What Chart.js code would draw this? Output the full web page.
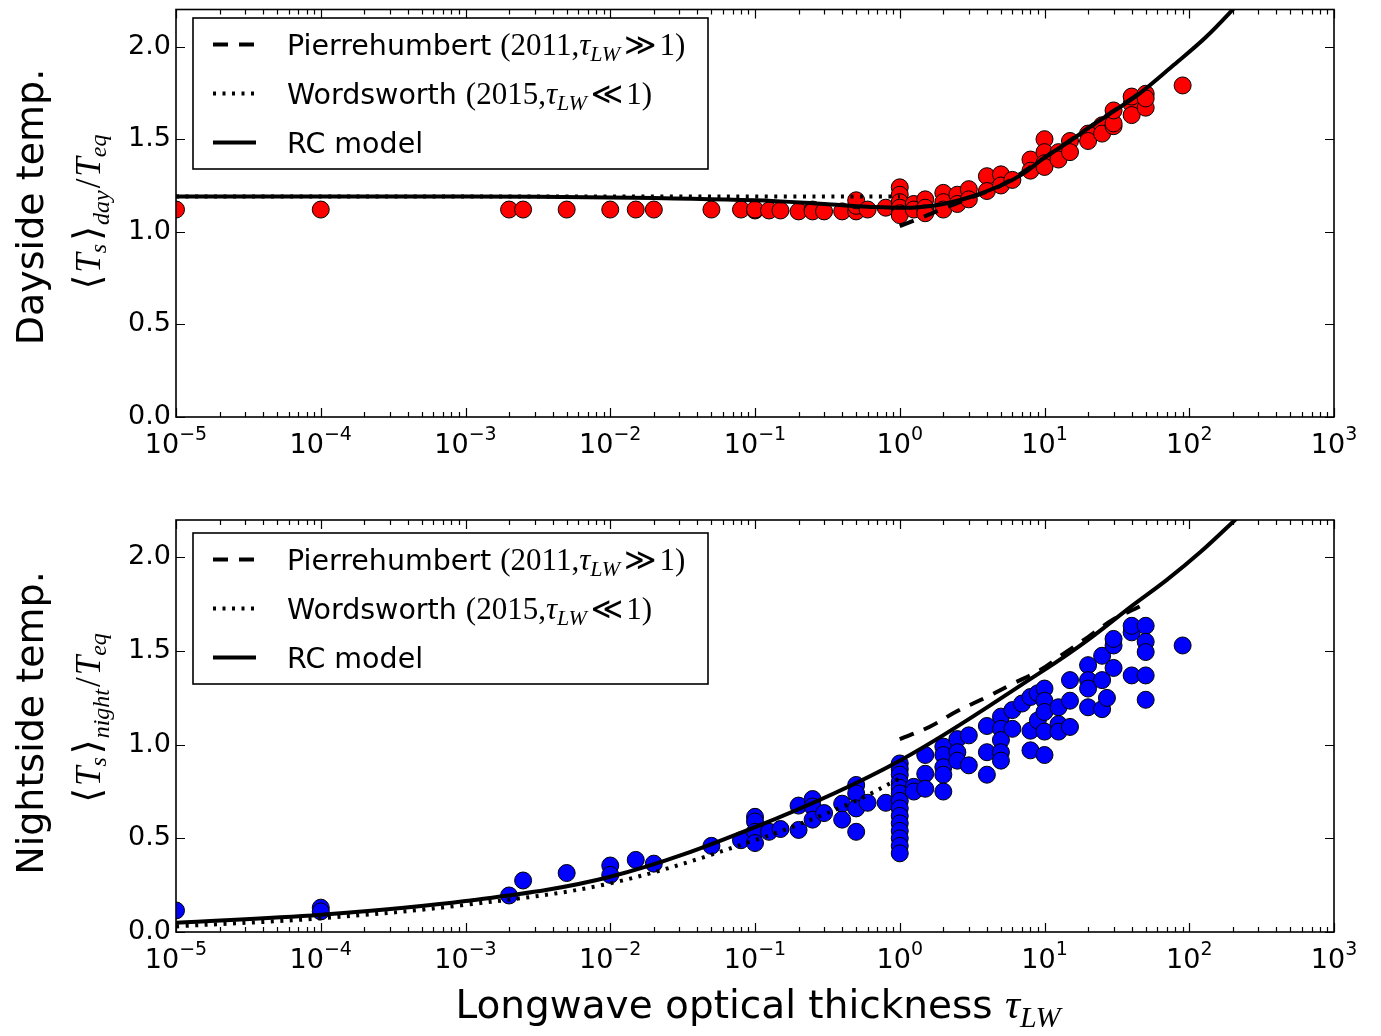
<!DOCTYPE html>
<html>
<head>
<meta charset="utf-8">
<script src="https://cdn.jsdelivr.net/npm/chart.js@4.4.1/dist/chart.umd.min.js"></script>
<style>
  body { margin: 0; background: #fff; width: 1381px; height: 1036px; position: relative; overflow: hidden; }
  .panel { position: absolute; left: 0; width: 1381px; }
</style>
</head>
<body>
<div class="panel" style="top:0;height:500px"><canvas id="dayChart"></canvas></div>
<div class="panel" style="top:500px;height:536px"><canvas id="nightChart"></canvas></div>
<script>
// Axis ticks
const xDecades = [-5, -4, -3, -2, -1, 0, 1, 2, 3];
const yTicks = [0, 0.5, 1.0, 1.5, 2.0];

// Simulated dayside temperatures (several runs per optical thickness)
const dayTau = [1e-5, 1e-4, 2e-3, 2.5e-3, 5e-3, 1e-2, 1.5e-2, 2e-2, 5e-2, 0.08, 0.1, 0.125, 0.15, 0.2, 0.25, 0.3, 0.4, 0.5, 0.6, 0.8,
                1, 1.25, 1.5, 2, 2.5, 3, 4, 5, 6, 8, 10, 12.5, 15, 20, 25, 30, 40, 50, 90];
const dayTemp = [[1.12], [1.12], [1.12], [1.12], [1.12], [1.12], [1.12], [1.12], [1.12], [1.12], [1.115, 1.12], [1.115], [1.115], [1.11],
                 [1.12, 1.11], [1.11], [1.11], [1.11, 1.14, 1.17], [1.12], [1.13],
                 [1.24, 1.20, 1.16, 1.13, 1.10, 1.09], [1.15, 1.12], [1.175, 1.13, 1.10], [1.21, 1.16, 1.12], [1.20, 1.15],
                 [1.23, 1.175], [1.30, 1.22], [1.31, 1.25], [1.28], [1.39, 1.33], [1.50, 1.43, 1.37, 1.35], [1.43, 1.39],
                 [1.49, 1.43], [1.53, 1.49], [1.575, 1.53], [1.57, 1.585, 1.655], [1.69, 1.63, 1.73], [1.745, 1.67, 1.72], [1.79]];

// Simulated nightside temperatures
const nightTau = [1e-5, 1e-4, 2e-3, 2.5e-3, 5e-3, 1e-2, 1.5e-2, 2e-2, 5e-2, 0.08, 0.1, 0.125, 0.15, 0.2, 0.25, 0.3, 0.4, 0.5, 0.6, 0.8,
                  1, 1.25, 1.5, 2, 2.5, 3, 4, 5, 6, 7, 8, 9, 10, 12.5, 15, 20, 25, 27, 30, 40, 50, 90];
const nightTemp = [[0.115], [0.13, 0.11], [0.195], [0.275], [0.315], [0.355, 0.305], [0.385], [0.365], [0.46], [0.49],
                   [0.615, 0.59, 0.535, 0.475], [0.535], [0.55], [0.675, 0.545], [0.71, 0.67, 0.60], [0.635], [0.685, 0.60],
                   [0.785, 0.74, 0.66, 0.535], [0.69], [0.69],
                   [0.90, 0.87, 0.84, 0.80, 0.77, 0.74, 0.70, 0.66, 0.62, 0.58, 0.54, 0.50, 0.46, 0.42],
                   [0.775, 0.75], [0.945, 0.845, 0.765], [0.99, 0.945, 0.88, 0.84, 0.75], [1.03, 0.96, 0.915], [1.05, 0.89],
                   [1.10, 0.96, 0.84], [1.15, 1.085, 1.025, 0.96, 0.915], [1.185, 1.085], [1.22], [1.255, 1.075, 0.97],
                   [1.275, 1.13], [1.30, 1.235, 1.175, 1.07, 0.945], [1.20, 1.11, 1.07], [1.345, 1.235, 1.095],
                   [1.425, 1.345, 1.30, 1.20], [1.475, 1.345, 1.19], [1.25], [1.53, 1.41, 1.565], [1.60, 1.37, 1.635],
                   [1.635, 1.55, 1.495, 1.37, 1.24], [1.53]];

// Model curves
const rcDayTau = [1e-5, 1e-3, 1e-2, 0.1, 0.3, 0.6, 1.2, 2, 3, 5, 7, 10, 15, 20, 30, 46, 78, 130, 230];
const rcDayVal = [1.19, 1.19, 1.185, 1.17, 1.15, 1.135, 1.13, 1.15, 1.185, 1.25, 1.31, 1.40, 1.49, 1.56, 1.65, 1.75, 1.90, 2.05, 2.25];
const pierreDayTau = [1, 1.5, 2, 3, 5, 10, 20, 50];
const pierreDayVal = [1.03, 1.085, 1.125, 1.18, 1.25, 1.40, 1.56, 1.77];
const wordsDayTau = [1e-5, 1];
const wordsDayVal = [1.19, 1.19];

const rcNightTau = [1e-5, 1e-4, 1e-3, 1e-2, 0.1, 1, 10, 20, 40, 70, 120, 207, 300];
const rcNightVal = [0.05, 0.092, 0.165, 0.295, 0.56, 0.915, 1.40, 1.56, 1.74, 1.88, 2.03, 2.2, 2.32];
const pierreNightTau = [1, 1.6, 2.5, 4, 6, 9.4, 13.5, 20, 30, 46, 50];
const pierreNightVal = [1.03, 1.095, 1.18, 1.255, 1.325, 1.40, 1.485, 1.575, 1.67, 1.74, 1.76];
const wordsNightTau = [1e-5, 1e-4, 1e-3, 1e-2, 0.1, 0.45, 1];
const wordsNightVal = [0.03, 0.073, 0.145, 0.26, 0.49, 0.685, 0.82];

const SANS = '"DejaVu Sans", sans-serif';
const SERIF = '"Liberation Serif", "DejaVu Serif", "DejaVu Sans", serif';
const fnt = (size, family, style) => (style ? style + ' ' : '') + size + 'px ' + family;

function scatterPoints(taus, temps) {
  const pts = [];
  taus.forEach((t, i) => temps[i].forEach(v => pts.push({ x: t, y: v })));
  return pts;
}
function curve(xs, ys) {
  return xs.map((x, i) => ({ x: x, y: ys[i] }));
}

// draws a row of text pieces with different fonts / offsets
function drawRich(ctx, parts, x, y, align) {
  let total = 0;
  parts.forEach(p => { ctx.font = p.f; p.w = ctx.measureText(p.t).width; total += p.w + (p.gap || 0); });
  let cx = align === 'center' ? x - total / 2 : (align === 'right' ? x - total : x);
  ctx.textAlign = 'left';
  ctx.textBaseline = 'alphabetic';
  parts.forEach(p => { ctx.font = p.f; ctx.fillText(p.t, cx, y + (p.dy || 0)); cx += p.w + (p.gap || 0); });
}

function legendText(name, year, rel) {
  const parts = [{ t: name, f: fnt(28.5, SANS), gap: 9 }];
  if (year) {
    parts.push({ t: '(' + year + ',', f: fnt(31, SERIF) });
    parts.push({ t: '\u03C4', f: fnt(31, SERIF, 'italic') });
    parts.push({ t: 'LW', f: fnt(22, SERIF, 'italic'), dy: 6, gap: 4 });
    parts.push({ t: rel, f: fnt(31, SERIF), gap: 3 });
    parts.push({ t: '1)', f: fnt(31, SERIF) });
  }
  return parts;
}

function decorPlugin(opt) {
  return {
    id: 'decor',
    afterDraw(chart) {
      const ctx = chart.ctx, a = chart.chartArea, xs = chart.scales.x, ys = chart.scales.y;
      ctx.save();
      ctx.strokeStyle = '#000';
      ctx.fillStyle = '#000';

      // inward ticks, matplotlib style
      ctx.lineWidth = 1.2;
      ctx.beginPath();
      xDecades.forEach(k => {
        for (let m = 1; m <= 9; m++) {
          if (k === 3 && m > 1) break;
          const px = Math.round(xs.getPixelForValue(m * Math.pow(10, k))) + 0.5;
          const len = m === 1 ? 9 : 5;
          ctx.moveTo(px, a.bottom); ctx.lineTo(px, a.bottom - len);
          ctx.moveTo(px, a.top); ctx.lineTo(px, a.top + len);
        }
      });
      yTicks.forEach(v => {
        const py = Math.round(ys.getPixelForValue(v)) + 0.5;
        ctx.moveTo(a.left, py); ctx.lineTo(a.left + 9, py);
        ctx.moveTo(a.right, py); ctx.lineTo(a.right - 9, py);
      });
      ctx.stroke();

      ctx.lineWidth = 1.6;
      ctx.strokeRect(a.left, a.top, a.right - a.left, a.bottom - a.top);

      // tick labels
      ctx.font = fnt(27, SANS);
      ctx.textAlign = 'right';
      ctx.textBaseline = 'middle';
      yTicks.forEach(v => ctx.fillText(v.toFixed(1), a.left - 5, ys.getPixelForValue(v)));
      xDecades.forEach(k => {
        const exp = k < 0 ? '\u2212' + (-k) : String(k);
        drawRich(ctx, [{ t: '10', f: fnt(27, SANS) }, { t: exp, f: fnt(19, SANS), dy: -13 }],
                 xs.getPixelForValue(Math.pow(10, k)), a.bottom + 36, 'center');
      });

      // y axis title (two lines, rotated)
      ctx.save();
      ctx.translate(43, opt.titleY);
      ctx.rotate(-Math.PI / 2);
      ctx.font = fnt(38, SANS);
      ctx.textAlign = 'center';
      ctx.textBaseline = 'alphabetic';
      ctx.fillText(opt.title, 0, 0);
      ctx.restore();

      ctx.save();
      ctx.translate(100, opt.mathY);
      ctx.rotate(-Math.PI / 2);
      drawRich(ctx, [
        { t: '\u27E8', f: fnt(38, SERIF), gap: 2 },
        { t: 'T', f: fnt(35, SERIF, 'italic') },
        { t: 's', f: fnt(24, SERIF, 'italic'), dy: 6, gap: 3 },
        { t: '\u27E9', f: fnt(38, SERIF), gap: 1 },
        { t: opt.sub, f: fnt(24, SERIF, 'italic'), dy: 9, gap: 2 },
        { t: '/', f: fnt(35, SERIF), gap: 2 },
        { t: 'T', f: fnt(35, SERIF, 'italic') },
        { t: 'eq', f: fnt(24, SERIF, 'italic'), dy: 6 }
      ], 0, 0, 'center');
      ctx.restore();

      // x axis title
      if (opt.xTitleY) {
        drawRich(ctx, [
          { t: 'Longwave optical thickness ', f: fnt(39, SANS) },
          { t: '\u03C4', f: fnt(42, SERIF, 'italic') },
          { t: 'LW', f: fnt(30, SERIF, 'italic'), dy: 9 }
        ], 758, opt.xTitleY, 'center');
      }

      // legend box
      const L = { x0: 193, x1: 708, y0: opt.legendTop, h: 151 };
      ctx.fillStyle = '#fff';
      ctx.fillRect(L.x0, L.y0, L.x1 - L.x0, L.h);
      ctx.lineWidth = 1.6;
      ctx.strokeRect(L.x0, L.y0, L.x1 - L.x0, L.h);
      const rows = [L.y0 + 26.5, L.y0 + 75.5, L.y0 + 124.5];
      const dashes = [[15, 11], [3, 6.5], []];
      const texts = [legendText('Pierrehumbert', 2011, '\u226B'), legendText('Wordsworth', 2015, '\u226A'), legendText('RC model')];
      ctx.fillStyle = '#000';
      rows.forEach((ry, i) => {
        ctx.beginPath();
        ctx.setLineDash(dashes[i]);
        ctx.lineWidth = 4;
        ctx.moveTo(213, ry); ctx.lineTo(256, ry);
        ctx.stroke();
        ctx.setLineDash([]);
        drawRich(ctx, texts[i], 287, ry + 10, 'left');
      });
      ctx.restore();
    }
  };
}

function makeChart(id, pts, color, rc, pierre, words, layoutPad, opt) {
  const lineBase = { type: 'line', showLine: true, pointRadius: 0, borderColor: '#000', borderWidth: 4,
                     fill: false, tension: 0.35, order: 1 };
  return new Chart(document.getElementById(id), {
    type: 'scatter',
    data: {
      datasets: [
        Object.assign({ label: 'RC model', data: rc }, lineBase),
        Object.assign({ label: 'Pierrehumbert', data: pierre, borderDash: [15, 11] }, lineBase),
        Object.assign({ label: 'Wordsworth', data: words, borderDash: [3, 6.5], borderWidth: 3.5 }, lineBase),
        {
          label: 'Simulations', data: pts, pointRadius: 8.5, pointHoverRadius: 8.5,
          backgroundColor: color, borderColor: '#000', borderWidth: 1, showLine: false, order: 2
        }
      ]
    },
    options: {
      responsive: true,
      maintainAspectRatio: false,
      animation: false,
      devicePixelRatio: 1,
      layout: { padding: layoutPad },
      plugins: { legend: { display: false }, tooltip: { enabled: false } },
      scales: {
        x: { type: 'logarithmic', min: 1e-5, max: 1e3, display: false },
        y: { type: 'linear', min: 0, max: 2.2, display: false }
      }
    },
    plugins: [decorPlugin(opt)]
  });
}

makeChart('dayChart', scatterPoints(dayTau, dayTemp), '#ff0000',
  curve(rcDayTau, rcDayVal), curve(pierreDayTau, pierreDayVal), curve(wordsDayTau, wordsDayVal),
  { left: 176, right: 47, top: 5, bottom: 83 },
  { title: 'Dayside temp.', sub: 'day', titleY: 207, mathY: 212, legendTop: 18 });

makeChart('nightChart', scatterPoints(nightTau, nightTemp), '#0000ff',
  curve(rcNightTau, rcNightVal), curve(pierreNightTau, pierreNightVal), curve(wordsNightTau, wordsNightVal),
  { left: 176, right: 47, top: 20, bottom: 104 },
  { title: 'Nightside temp.', sub: 'night', titleY: 223, mathY: 218, legendTop: 33, xTitleY: 518 });
</script>
</body>
</html>
